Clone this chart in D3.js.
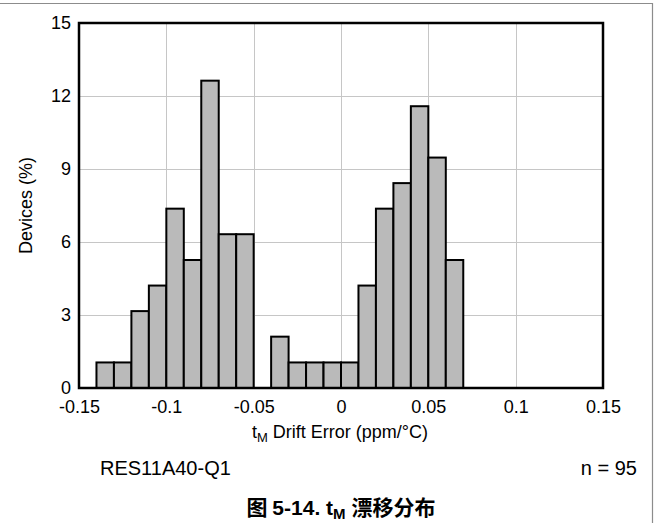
<!DOCTYPE html>
<html>
<head>
<meta charset="utf-8">
<script src="https://cdn.jsdelivr.net/npm/d3@7"></script>
<style>
  html, body { margin: 0; padding: 0; background: #fff; }
  svg text { font-family: "Liberation Sans", Arial, sans-serif; fill: #000; }
</style>
</head>
<body>
<script>
// Histogram bins: lower edge of each 0.01 ppm/°C bin and share of devices (%)
const binStarts = [-0.14, -0.13, -0.12, -0.11, -0.10, -0.09, -0.08, -0.07, -0.06, -0.05,
                   -0.04, -0.03, -0.02, -0.01, 0.00, 0.01, 0.02, 0.03, 0.04, 0.05, 0.06];
const devicePct = [1.05, 1.05, 3.16, 4.21, 7.37, 5.26, 12.63, 6.32, 6.32, 0,
                   2.11, 1.05, 1.05, 1.05, 1.05, 4.21, 7.37, 8.42, 11.58, 9.47, 5.26];
const binWidth = 0.01;
const xTicks = [-0.15, -0.1, -0.05, 0, 0.05, 0.1, 0.15];
const xTickLabels = ["-0.15", "-0.1", "-0.05", "0", "0.05", "0.1", "0.15"];
const yTicks = [0, 3, 6, 9, 12, 15];

const W = 656, H = 523;
const plot = { left: 79, right: 603, top: 23, bottom: 388 };
const tickFont = 18;

const svg = d3.select("body").append("svg").attr("width", W).attr("height", H);

// outer figure frame (top and right edges)
svg.append("path")
  .attr("d", `M0,3.5H652.5V${H}`)
  .attr("fill", "none").attr("stroke", "#8c8c8c").attr("stroke-width", 1.2);

const x = d3.scaleLinear().domain([-0.15, 0.15]).range([plot.left, plot.right]);
const y = d3.scaleLinear().domain([0, 15]).range([plot.bottom, plot.top]);

// grid
const grid = svg.append("g").attr("stroke", "#c6c6c6").attr("stroke-width", 1);
grid.selectAll("line.gx").data(xTicks.slice(1, -1)).join("line")
  .attr("x1", d => Math.round(x(d)) + 0.5).attr("x2", d => Math.round(x(d)) + 0.5)
  .attr("y1", plot.top).attr("y2", plot.bottom);
grid.selectAll("line.gy").data(yTicks.slice(1, -1)).join("line")
  .attr("y1", d => Math.round(y(d)) + 0.5).attr("y2", d => Math.round(y(d)) + 0.5)
  .attr("x1", plot.left).attr("x2", plot.right);

// bars
const bins = binStarts.map((s, i) => ({ x0: s, x1: s + binWidth, v: devicePct[i] })).filter(d => d.v > 0);
svg.append("g").selectAll("rect").data(bins).join("rect")
  .attr("x", d => x(d.x0)).attr("width", d => x(d.x1) - x(d.x0))
  .attr("y", d => y(d.v)).attr("height", d => y(0) - y(d.v))
  .attr("fill", "#bababa").attr("stroke", "#000").attr("stroke-width", 2);

// plot frame
svg.append("rect")
  .attr("x", plot.left).attr("y", plot.top)
  .attr("width", plot.right - plot.left).attr("height", plot.bottom - plot.top)
  .attr("fill", "none").attr("stroke", "#000").attr("stroke-width", 2.5);

// axes
const xAxis = d3.axisBottom(x).tickValues(xTicks).tickFormat((d, i) => xTickLabels[i]).tickSize(0).tickPadding(12);
const gx = svg.append("g").attr("transform", `translate(0,${plot.bottom})`).call(xAxis);
gx.select(".domain").remove();
gx.selectAll("text").attr("font-size", tickFont).attr("font-family", "Liberation Sans, Arial, sans-serif").attr("fill", "#000");

const yAxis = d3.axisLeft(y).tickValues(yTicks).tickSize(0).tickPadding(8);
const gy = svg.append("g").attr("transform", `translate(${plot.left},0)`).call(yAxis);
gy.select(".domain").remove();
gy.selectAll("text").attr("font-size", tickFont).attr("font-family", "Liberation Sans, Arial, sans-serif").attr("fill", "#000");

// axis titles
const xt = svg.append("text").attr("x", (plot.left + plot.right) / 2 - 1).attr("y", 438)
  .attr("text-anchor", "middle").attr("font-size", 18);
xt.append("tspan").text("t");
xt.append("tspan").attr("font-size", 13).attr("dy", 4).text("M");
xt.append("tspan").attr("dy", -4).text(" Drift Error (ppm/°C)");

svg.append("text")
  .attr("transform", `translate(32,${(plot.top + plot.bottom) / 2}) rotate(-90)`)
  .attr("text-anchor", "middle").attr("font-size", 18).text("Devices (%)");

// annotations
svg.append("text").attr("x", 100).attr("y", 475).attr("font-size", 20).text("RES11A40-Q1");
svg.append("text").attr("x", 637).attr("y", 475).attr("text-anchor", "end").attr("font-size", 20).text("n = 95");

// caption
const cap = svg.append("text").attr("x", 341).attr("y", 515).attr("text-anchor", "middle")
  .attr("font-size", 21).attr("font-weight", "bold")
  .style("font-family", "'Liberation Sans', 'Noto Sans CJK SC', sans-serif");
cap.append("tspan").style("font-family", "'Noto Sans CJK SC', sans-serif").text("图 ");
cap.append("tspan").text("5-14. t");
cap.append("tspan").attr("font-size", 15).attr("dy", 4).text("M");
cap.append("tspan").attr("dy", -4).text(" ");
cap.append("tspan").style("font-family", "'Noto Sans CJK SC', sans-serif").text("漂移分布");
</script>
</body>
</html>
